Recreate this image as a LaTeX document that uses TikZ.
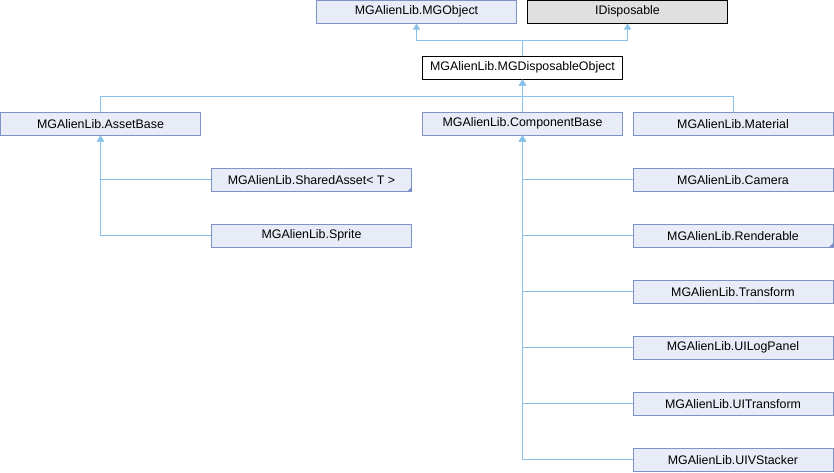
\documentclass[tikz,border=0pt]{standalone}
\usepackage{fontspec}
\setmainfont{Liberation Sans}
\usetikzlibrary{arrows.meta}
\definecolor{boxfill}{HTML}{E8ECF6}
\definecolor{boxline}{HTML}{7F92C8}
\definecolor{edgecol}{HTML}{8AC2EA}
\definecolor{greyfill}{HTML}{E0E0E0}
\tikzset{
  cls/.style={draw=boxline, fill=boxfill, line width=1pt, minimum width=200pt, minimum height=22.5pt, inner sep=0pt, font=\fontsize{12.4pt}{14pt}\selectfont, text=black},
  ext/.style={cls, draw=black, fill=greyfill},
  cur/.style={cls, draw=black, fill=white},
  inh/.style={draw=edgecol, line width=1pt, -{Triangle[width=7pt,length=6pt]}},
  corner/.style={fill=boxline}
}
\begin{document}
\begin{tikzpicture}[x=1pt,y=-1pt]
\useasboundingbox (0,0) rectangle (834,472);
% top row
\node[cls] (mgobj) at (416.5,11.75) {MGAlienLib.MGObject};
\node[ext] (idisp) at (627.5,11.75) {IDisposable};
\node[cur] (mgdisp) at (522.5,67.75) {MGAlienLib.MGDisposableObject};
% second row
\node[cls] (asset) at (100.5,123.75) {MGAlienLib.AssetBase};
\node[cls] (comp) at (522.5,123.75) {MGAlienLib.ComponentBase};
\node[cls] (mat) at (733,123.75) {MGAlienLib.Material};
% asset children
\node[cls] (shared) at (311.5,179.75) {MGAlienLib.SharedAsset< T >};
\node[cls] (sprite) at (311.5,235.75) {MGAlienLib.Sprite};
% component children
\node[cls] (camera) at (733,179.75) {MGAlienLib.Camera};
\node[cls] (render) at (733,235.75) {MGAlienLib.Renderable};
\node[cls] (trans) at (733,291.75) {MGAlienLib.Transform};
\node[cls] (uilog) at (733,347.75) {MGAlienLib.UILogPanel};
\node[cls] (uitrans) at (733,403.75) {MGAlienLib.UITransform};
\node[cls] (uivs) at (733,459.75) {MGAlienLib.UIVStacker};
% corner markers
\fill[corner] (shared.south east) -- ++(-5,0) -- ++(5,-5) -- cycle;
\fill[corner] (render.south east) -- ++(-5,0) -- ++(5,-5) -- cycle;
% junctions
\coordinate (j1) at (522.5,40.3);
\coordinate (j2) at (522.5,96);
% edges
\draw[inh] (mgdisp.north) -- (j1) -| (mgobj.south);
\draw[inh] (mgdisp.north) -- (j1) -| (idisp.south);
\draw[inh] (asset.north) |- (j2) -- (mgdisp.south);
\draw[inh] (mat.north) |- (j2) -- (mgdisp.south);
\draw[inh] (comp.north) -- (mgdisp.south);
\draw[inh] (shared.west) -| (asset.south);
\draw[inh] (sprite.west) -| (asset.south);
\draw[inh] (camera.west) -| (comp.south);
\draw[inh] (render.west) -| (comp.south);
\draw[inh] (trans.west) -| (comp.south);
\draw[inh] (uilog.west) -| (comp.south);
\draw[inh] (uitrans.west) -| (comp.south);
\draw[inh] (uivs.west) -| (comp.south);
\end{tikzpicture}
\end{document}
